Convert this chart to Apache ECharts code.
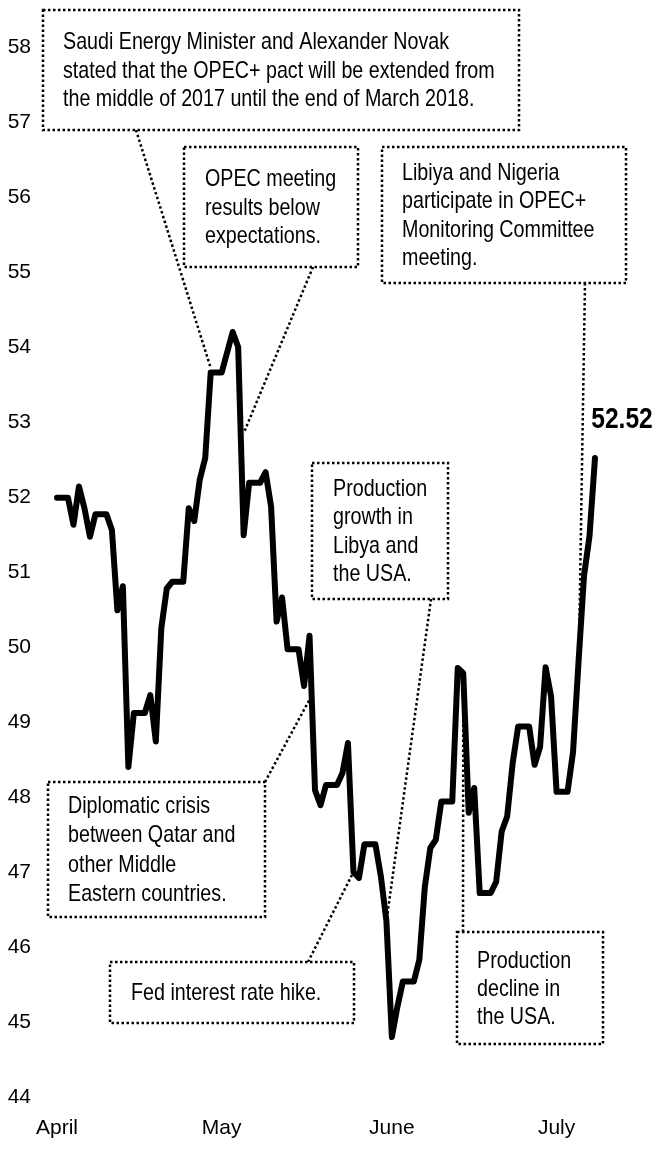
<!DOCTYPE html>
<html>
<head>
<meta charset="utf-8">
<script src="https://cdn.jsdelivr.net/npm/echarts@6/dist/echarts.min.js"></script>
<style>
  html, body { margin: 0; padding: 0; background: #fff; }
  #chart { width: 655px; height: 1151px; }
</style>
</head>
<body>
<div id="chart"></div>
<script>
// Brent, USD/bbl, daily from 1 April 2017 (weekend days carry the price)
const startDate = "2017-04-01";
const prices = [
  51.99, 51.99, 51.99, 51.63, 52.14, 51.85, 51.47, 51.77, 51.77, 51.77,
  51.56, 50.49, 50.81, 48.40, 49.12, 49.12, 49.12, 49.36, 48.74, 50.25,
  50.78, 50.87, 50.87, 50.87, 51.85, 51.68, 52.23, 52.52, 53.66, 53.66,
  53.66, 53.93, 54.20, 54.00, 51.49, 52.19, 52.19, 52.19, 52.33, 51.87,
  50.34, 50.66, 49.97, 49.97, 49.97, 49.48, 50.15, 48.09, 47.89, 48.16,
  48.16, 48.16, 48.32, 48.72, 47.00, 46.92, 47.37, 47.37, 47.37, 46.94,
  46.35, 44.80, 45.20, 45.54, 45.54, 45.54, 45.83, 46.80, 47.32, 47.43,
  47.94, 47.94, 47.94, 49.72, 49.65, 47.79, 48.12, 46.72, 46.72, 46.72,
  46.87, 47.54, 47.74, 48.45, 48.94, 48.94, 48.94, 48.43, 48.67, 49.73,
  49.34, 48.07, 48.07, 48.07, 48.60, 49.80, 50.95, 51.48, 52.52
];
const monthNames = ["January", "February", "March", "April", "May", "June",
  "July", "August", "September", "October", "November", "December"];
const yMin = 44, yMax = 58;

// annotation texts and the point (day index, price) each one points to
const notes = [
  "Saudi Energy Minister and Alexander Novak\nstated that the OPEC+ pact will be extended from\nthe middle of 2017 until the end of March 2018.",
  "OPEC meeting\nresults below\nexpectations.",
  "Libiya and Nigeria\nparticipate in OPEC+\nMonitoring Committee\nmeeting.",
  "Production\ngrowth in\nLibya and\nthe USA.",
  "Diplomatic crisis\nbetween Qatar and\nother Middle\nEastern countries.",
  "Fed interest rate hike.",
  "Production\ndecline in\nthe USA."
];
const noteTargets = [
  [28, 53.72], [34, 52.85], [95, 49.6], [60, 46.34], [46, 49.3], [54, 47.0], [74, 49.5]
];

const days = [];
{
  const d = new Date(startDate + "T00:00:00Z");
  for (let i = 0; i < prices.length; i++) {
    days.push(d.toISOString().slice(0, 10));
    d.setUTCDate(d.getUTCDate() + 1);
  }
}

const FONT = '"Liberation Sans", Arial, sans-serif';
const NARROW = 0.82; // no Arial Narrow here: squeeze the regular face
const chart = echarts.init(document.getElementById("chart"));
const last = prices.length - 1;

chart.setOption({
  animation: false,
  grid: { left: 57, right: 60, top: 47, bottom: 54 },
  xAxis: {
    type: "category",
    data: days,
    boundaryGap: false,
    axisLine: { show: false },
    axisTick: { show: false },
    axisLabel: {
      interval: (i, v) => v.slice(8) === "01",
      formatter: v => monthNames[Number(v.slice(5, 7)) - 1],
      fontFamily: FONT, fontSize: 21, color: "#000", margin: 21
    },
    splitLine: { show: false }
  },
  yAxis: {
    type: "value",
    min: yMin, max: yMax, interval: 1,
    axisLine: { show: false },
    axisTick: { show: false },
    splitLine: { show: false },
    axisLabel: { fontFamily: FONT, fontSize: 21, color: "#000", margin: 26 }
  },
  series: [{
    type: "line",
    data: prices,
    showSymbol: false,
    symbol: "none",
    lineStyle: { color: "#000", width: 6, cap: "round", join: "round" }
  }]
});

// boxes: [left, top, width, height], text inset, line height, leader start on the box
const boxes = [
  { r: [43, 10, 476, 120], pad: 20, lh: 28.5, from: [136, 130] },
  { r: [184, 147, 174, 120], pad: 21, lh: 28.5, from: [313, 267] },
  { r: [382, 147, 244, 136], pad: 20, lh: 28.5, from: [585, 283] },
  { r: [312, 463, 136, 136], pad: 21, lh: 28.5, from: [431, 599] },
  { r: [48, 782, 217, 135], pad: 20, lh: 29.5, from: [265, 782] },
  { r: [110, 962, 244, 61], pad: 21, lh: 29, from: [308, 962] },
  { r: [457, 932, 146, 112], pad: 20, lh: 28, from: [463, 932] }
];

const dotted = { stroke: "#000", lineWidth: 2.5, lineDash: [2.5, 2.5], fill: null };
const graphic = [];
boxes.forEach((b, k) => {
  const [x, y, w, h] = b.r;
  const to = chart.convertToPixel({ xAxisIndex: 0, yAxisIndex: 0 }, noteTargets[k]);
  graphic.push({
    type: "line", silent: true,
    shape: { x1: b.from[0], y1: b.from[1], x2: to[0], y2: to[1] },
    style: dotted
  });
  graphic.push({
    type: "rect", silent: true,
    shape: { x: x, y: y, width: w, height: h },
    style: Object.assign({}, dotted, { fill: "#fff" })
  });
  graphic.push({
    type: "text", silent: true,
    x: x + b.pad, y: y + h / 2 + 1, scaleX: NARROW,
    style: {
      text: notes[k], fontFamily: FONT, fontSize: 24, fill: "#000",
      lineHeight: b.lh, verticalAlign: "middle", align: "left"
    }
  });
});

// closing price next to the end of the line
const endPt = chart.convertToPixel({ xAxisIndex: 0, yAxisIndex: 0 }, [last, prices[last]]);
graphic.push({
  type: "text", silent: true,
  x: endPt[0] + 27, y: endPt[1] - 38, scaleX: NARROW,
  style: {
    text: prices[last].toFixed(2), fontFamily: FONT, fontSize: 30,
    fontWeight: "bold", fill: "#000", align: "center", verticalAlign: "middle"
  }
});
chart.setOption({ graphic: graphic });
</script>
</body>
</html>
